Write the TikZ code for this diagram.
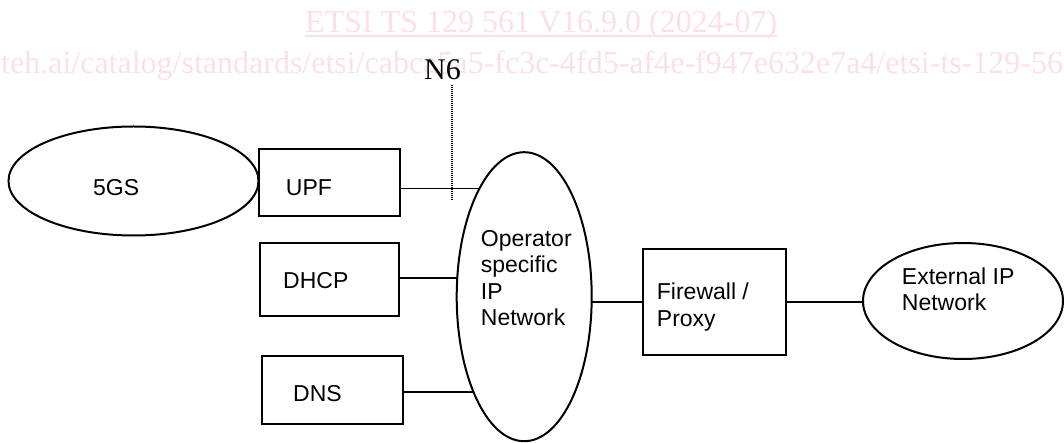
\documentclass[tikz,border=0pt]{standalone}
\usepackage{fontspec}
\setmainfont{Liberation Sans}
\newfontfamily\wmfont{Liberation Serif}
\usetikzlibrary{shapes.geometric,backgrounds}
\definecolor{wmpink}{RGB}{251,224,233}

\begin{document}
\begin{tikzpicture}[x=1pt,y=-1pt,
    box/.style={draw,line width=2pt,fill=white,inner sep=0pt},
    cloud/.style={draw,ellipse,line width=2pt,fill=white,inner sep=0pt},
    lbl/.style={anchor=base west,inner sep=0pt,align=left,font=\fontsize{23}{26.6}\selectfont},
    wm/.style={anchor=base west,inner sep=0pt,text=wmpink,font=\wmfont\fontsize{32}{36}\selectfont},
    link/.style={line width=1.7pt}]
    \useasboundingbox (0,0) rectangle (1064,443);
    \clip (0,0) rectangle (1064,443);
    % watermark
    \node[wm] (wmtitle) at (305,33) {ETSI TS 129 561 V16.9.0 (2024-07)};
    \draw[wmpink,line width=2pt] ([yshift=-3pt]wmtitle.base west) -- ([yshift=-3pt]wmtitle.base east);
    \node[wm] (wmurl) at (1,74) {teh.ai/catalog/standards/etsi/cabca5a5-fc3c-4fd5-af4e-f947e632e7a4/etsi-ts-129-561};
    % reference point N6
    \node[anchor=base west,inner sep=0pt,font=\wmfont\fontsize{30}{34}\selectfont] (n6) at (424,80) {N6};
    \coordinate (n6top) at (452,85);
    \coordinate (n6bot) at (452,200);
    % 5GS side
    \node[cloud,minimum width=250pt,minimum height=109pt] (gs) at (133.5,181) {};
    \node[box,minimum width=141pt,minimum height=67pt] (upf) at (329.3,183) {};
    \node[box,minimum width=139pt,minimum height=73pt] (dhcp) at (329.5,279.5) {};
    \node[box,minimum width=141pt,minimum height=68pt] (dns) at (332.5,390) {};
    % operator network
    \node[cloud,minimum width=135pt,minimum height=289pt] (op) at (524.2,296.7) {};
    \node[box,minimum width=143pt,minimum height=105pt] (fw) at (714.2,302) {};
    \node[cloud,minimum width=200pt,minimum height=116pt] (ext) at (963,301) {};
    % texts (multi-line: base is the last line)
    \node[lbl] (gstxt) at (93,196) {5GS};
    \node[lbl] (upftxt) at (285.7,196) {UPF};
    \node[lbl] (dhcptxt) at (283,288) {DHCP};
    \node[lbl] (dnstxt) at (293,401) {DNS};
    \node[lbl] (optxt) at (480.7,325.8) {Operator\\specific\\IP\\Network};
    \node[lbl] (fwtxt) at (656.7,326) {Firewall /\\Proxy};
    \node[lbl] (exttxt) at (901.7,310.7) {External IP\\Network};
    % links
    \begin{scope}[on background layer]
        \draw[link] ([yshift=-5.5pt]upf.east) -- ([yshift=-5.5pt]upf.east -| op.center);
        \draw[link] ([yshift=1.5pt]dhcp.east) -- ([yshift=1.5pt]dhcp.east -| op.center);
        \draw[link] ([yshift=-2pt]dns.east) -- ([yshift=-2pt]dns.east -| op.center);
        \draw[link] (fw.west) -- (fw.west -| op.center);
        \draw[link] (fw.east) -- (fw.east -| ext.center);
    \end{scope}
    \draw[line width=1.4pt,dash pattern=on 1.2pt off 0.8pt] (n6top) -- (n6bot);
\end{tikzpicture}
\end{document}
